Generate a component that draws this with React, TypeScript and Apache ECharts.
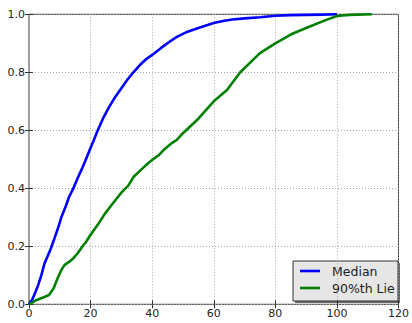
import React, { useEffect, useRef } from "react";
import * as echarts from "echarts";

// Cumulative fraction curves
const medianX = [0, 1, 2, 3, 4, 5, 6, 7, 8.3, 9.5, 10.5, 12, 13, 14.4, 16, 17.3, 18.5, 20, 21, 22.2, 24, 26, 28, 30, 32, 33.9, 36, 38, 40, 43, 46, 48, 51.5, 55, 58, 60, 63, 66, 70, 75, 80, 85, 90, 95, 100];
const medianY = [0, 0.015, 0.04, 0.067, 0.1, 0.14, 0.165, 0.19, 0.228, 0.265, 0.3, 0.34, 0.37, 0.4, 0.44, 0.47, 0.5, 0.54, 0.565, 0.597, 0.64, 0.68, 0.715, 0.745, 0.775, 0.8, 0.825, 0.845, 0.86, 0.885, 0.908, 0.922, 0.94, 0.953, 0.963, 0.97, 0.977, 0.982, 0.986, 0.99, 0.995, 0.997, 0.998, 0.999, 1.0];

const lieX = [0, 2.5, 5, 6.5, 8, 9.5, 10.5, 11.5, 13.1, 14.5, 15.8, 17.4, 18.5, 20, 21.5, 22.7, 24.5, 27, 30, 32.3, 34, 36, 38, 40, 42, 44, 46, 48, 50, 55, 60, 64.3, 68.6, 72, 75, 80, 85.7, 91, 96.3, 100, 104, 111.3];
const lieY = [0, 0.015, 0.025, 0.032, 0.055, 0.095, 0.118, 0.135, 0.147, 0.16, 0.176, 0.2, 0.215, 0.24, 0.262, 0.28, 0.31, 0.345, 0.385, 0.41, 0.44, 0.46, 0.48, 0.498, 0.513, 0.535, 0.553, 0.567, 0.59, 0.64, 0.7, 0.739, 0.8, 0.835, 0.866, 0.9, 0.934, 0.957, 0.98, 0.994, 0.998, 1.0];

const seriesNames = ["Median", "90%th Lie"];
const seriesColors = ["#0000ff", "#008000"];

const xTicks = [0, 20, 40, 60, 80, 100, 120];
const yTicks = [0, 0.2, 0.4, 0.6, 0.8, 1.0];

const FONT = "DejaVu Sans";

export default function App() {
  const ref = useRef<HTMLDivElement>(null);

  useEffect(() => {
    if (!ref.current) return;
    const chart = echarts.init(ref.current, undefined, { renderer: "svg" });

    const pairs = (xs: number[], ys: number[]) => xs.map((x, i) => [x, ys[i]]);

    const baseX = {
      type: "value" as const,
      min: xTicks[0],
      max: xTicks[xTicks.length - 1],
      interval: 20,
    };
    const baseY = {
      type: "value" as const,
      min: yTicks[0],
      max: yTicks[yTicks.length - 1],
      interval: 0.2,
    };
    const tick = { show: true, inside: true, length: 4, lineStyle: { color: "#333", width: 1 } };

    const L = 293, T = 261, W = 105, H = 40;

    chart.setOption({
      animation: false,
      backgroundColor: "#ffffff",
      grid: {
        left: 29,
        top: 14.3,
        right: 8,
        bottom: 18.7,
        show: true,
        borderColor: "#3a3a3a",
        borderWidth: 1,
        backgroundColor: "transparent",
      },
      xAxis: [
        {
          ...baseX,
          position: "bottom",
          axisLine: { show: false },
          axisTick: tick,
          axisLabel: {
            color: "#222",
            fontFamily: FONT,
            fontSize: 11,
            margin: 4,
            formatter: (v: number) => String(v),
          },
          splitLine: { show: true, lineStyle: { color: "#a8a8a8", type: [1, 2], width: 1 } },
        },
        {
          ...baseX,
          position: "top",
          axisLine: { show: false },
          axisTick: tick,
          axisLabel: { show: false },
          splitLine: { show: false },
        },
      ],
      yAxis: [
        {
          ...baseY,
          position: "left",
          axisLine: { show: false },
          axisTick: tick,
          axisLabel: {
            color: "#222",
            fontFamily: FONT,
            fontSize: 11,
            margin: 4,
            formatter: (v: number) => v.toFixed(1),
          },
          splitLine: { show: true, lineStyle: { color: "#a8a8a8", type: [1, 2], width: 1 } },
        },
        {
          ...baseY,
          position: "right",
          axisLine: { show: false },
          axisTick: tick,
          axisLabel: { show: false },
          splitLine: { show: false },
        },
      ],
      series: [
        {
          name: seriesNames[0],
          type: "line",
          data: pairs(medianX, medianY),
          showSymbol: false,
          lineStyle: { color: seriesColors[0], width: 2.6 },
          itemStyle: { color: seriesColors[0] },
          z: 3,
        },
        {
          name: seriesNames[1],
          type: "line",
          data: pairs(lieX, lieY),
          showSymbol: false,
          lineStyle: { color: seriesColors[1], width: 2.6 },
          itemStyle: { color: seriesColors[1] },
          z: 4,
        },
      ],
      graphic: [
        {
          type: "group",
          z: 100,
          children: [
            { type: "rect", shape: { x: L + 2, y: T + 2, width: W, height: H }, style: { fill: "#6b6b6b" } },
            { type: "rect", shape: { x: L, y: T, width: W, height: H }, style: { fill: "#e6e6e6", stroke: "#333", lineWidth: 1 } },
            ...seriesNames.flatMap((name, i) => [
              {
                type: "line",
                shape: { x1: L + 7, y1: T + 10 + i * 17, x2: L + 27, y2: T + 10 + i * 17 },
                style: { stroke: seriesColors[i], lineWidth: 2.6 },
              },
              {
                type: "text",
                x: L + 39,
                y: T + 10 + i * 17,
                style: { text: name, fill: "#222", font: `12.5px ${FONT}`, textVerticalAlign: "middle", verticalAlign: "middle" },
              },
            ]),
          ],
        },
      ],
    });

    return () => chart.dispose();
  }, []);

  return (
    <div
      ref={ref}
      style={{ position: "fixed", left: 0, top: 0, width: 412, height: 323, background: "#fff" }}
    />
  );
}
